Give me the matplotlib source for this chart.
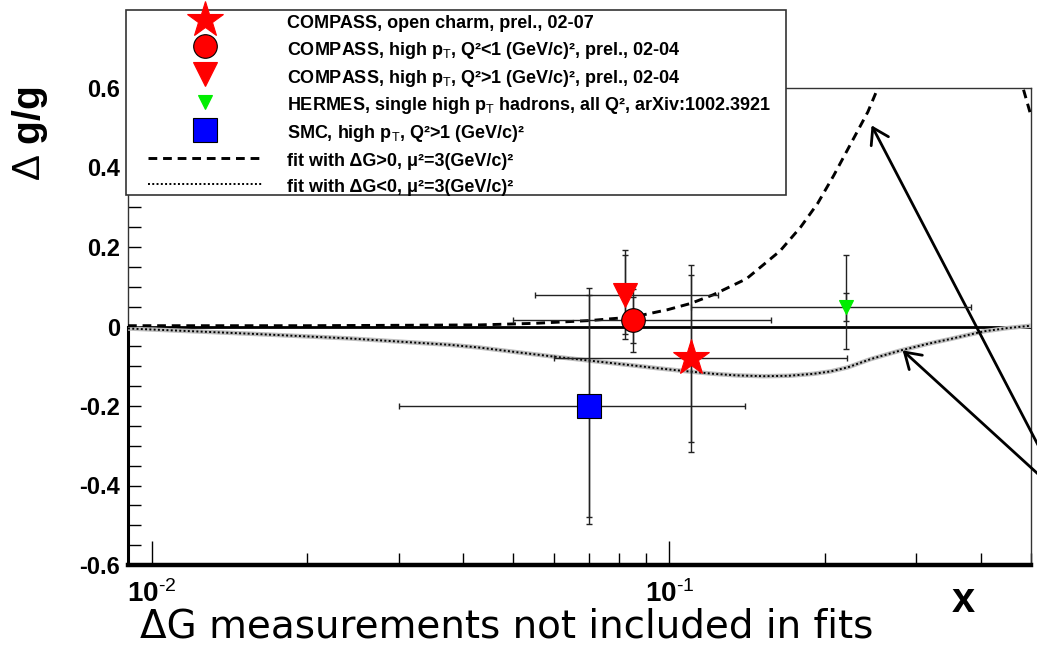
import matplotlib
matplotlib.use("Agg")
import matplotlib.pyplot as plt
from matplotlib.patches import Rectangle

plt.rcParams['mathtext.fontset'] = 'custom'
plt.rcParams['mathtext.rm'] = 'Liberation Sans'
plt.rcParams['mathtext.bf'] = 'Liberation Sans:bold'
plt.rcParams['mathtext.it'] = 'Liberation Sans:italic'

# measurements: x, dg/g, stat error, total error (up/down), x range of the bar
labels = ["COMPASS, open charm, prel., 02-07",
          "COMPASS, high p$_{\\rm T}$, Q²<1 (GeV/c)², prel., 02-04",
          "COMPASS, high p$_{\\rm T}$, Q²>1 (GeV/c)², prel., 02-04",
          "HERMES, single high p$_{\\rm T}$ hadrons, all Q², arXiv:1002.3921",
          "SMC, high p$_{\\rm T}$, Q²>1 (GeV/c)²"]
x_pts = [0.11, 0.085, 0.082, 0.22, 0.07]
y_pts = [-0.08, 0.016, 0.08, 0.049, -0.20]
stat_err = [0.21, 0.058, 0.10, 0.035, 0.28]
tot_up = [0.235, 0.079, 0.112, 0.131, 0.297]
tot_down = [0.235, 0.079, 0.112, 0.105, 0.297]
x_lo = [0.060, 0.050, 0.055, 0.110, 0.030]
x_hi = [0.221, 0.157, 0.124, 0.383, 0.140]
markers = ['*', 'o', 'v', 'v', 's']
colors = ['#ff0000', '#ff0000', '#ff0000', '#00ee00', '#0000ff']
sizes = [27, 17, 17, 9.5, 17]
edges = ['none', 'k', 'none', 'none', 'k']

# fit curves
pos_x = [0.009, 0.02, 0.03, 0.043, 0.055, 0.0703, 0.0852, 0.0991, 0.11, 0.1217, 0.141,
         0.1637, 0.1794, 0.1936, 0.2079, 0.2243, 0.242, 0.253, 0.28, 0.32, 0.37,
         0.42, 0.46, 0.4826, 0.5]
pos_y = [0.002, 0.002, 0.003, 0.004, 0.008, 0.015, 0.024, 0.042, 0.058, 0.08, 0.12,
         0.19, 0.25, 0.31, 0.38, 0.46, 0.54, 0.60, 0.72, 0.82, 0.86,
         0.80, 0.68, 0.60, 0.53]
neg_x = [0.009, 0.0154, 0.0241, 0.0376, 0.043, 0.051, 0.0601, 0.0703, 0.0852, 0.095, 0.105,
         0.1217, 0.135, 0.1521, 0.17, 0.19, 0.205, 0.221, 0.245, 0.2804, 0.315, 0.3505,
         0.406, 0.45, 0.5]
neg_y = [-0.005, -0.018, -0.03, -0.046, -0.053, -0.065, -0.076, -0.086, -0.098, -0.105, -0.111,
         -0.119, -0.123, -0.125, -0.124, -0.119, -0.113, -0.103, -0.082, -0.060, -0.044, -0.031,
         -0.012, -0.004, 0.002]

fig = plt.figure(figsize=(10.37, 6.49), dpi=100)
ax = fig.add_axes([128/1037, 1 - 565/649, (1031 - 128)/1037, (565 - 88)/649])
ax.set_xscale('log')
ax.set_xlim(0.009, 0.5)
ax.set_ylim(-0.6, 0.6)

ax.axhline(0, color='k', lw=2, zorder=2)
ax.plot([0.009, 0.009], [-0.6, 0], color='k', lw=2.2, clip_on=False, zorder=3)

ax.plot(neg_x, neg_y, color='#bdbdbd', lw=3.2, zorder=3)
line_neg, = ax.plot(neg_x, neg_y, color='k', lw=1.4, dashes=(1, 1.2), zorder=3)
line_pos, = ax.plot(pos_x, pos_y, color='k', lw=2.1, dashes=(3, 2), zorder=3)

handles = []
for i in range(len(x_pts)):
    xe = [[x_pts[i] - x_lo[i]], [x_hi[i] - x_pts[i]]]
    ax.errorbar([x_pts[i]], [y_pts[i]], xerr=xe, yerr=[[tot_down[i]], [tot_up[i]]],
                fmt='none', ecolor='#222222', elinewidth=1.0, capsize=2, capthick=1.0, zorder=4)
    ax.errorbar([x_pts[i]], [y_pts[i]], yerr=stat_err[i],
                fmt='none', ecolor='#222222', elinewidth=1.0, capsize=2, capthick=1.0, zorder=4)
    h, = ax.plot([x_pts[i]], [y_pts[i]], marker=markers[i], color=colors[i], ms=sizes[i],
                 mec=edges[i] if edges[i] != 'none' else colors[i], mew=0.8,
                 linestyle='none', zorder=5)
    handles.append(h)

ax.set_yticks([-0.6, -0.4, -0.2, 0, 0.2, 0.4, 0.6])
ax.set_yticklabels(['-0.6', '-0.4', '-0.2', '0', '0.2', '0.4', '0.6'],
                   fontsize=17, fontweight='bold', family='Liberation Sans')
ax.set_yticks([v / 100 for v in range(-60, 61, 5)], minor=True)
ax.set_xticks([0.01, 0.1])
ax.set_xticklabels([r'$\mathbf{10}^{\text{-2}}$', r'$\mathbf{10}^{\text{-1}}$'], fontsize=20)
ax.tick_params(axis='y', which='both', direction='in', length=9.5, width=1, pad=5.5)
ax.tick_params(axis='x', which='major', direction='in', length=17, width=1, pad=11)
ax.tick_params(axis='x', which='minor', direction='in', length=8.6, width=1, labelbottom=False)
ax.spines['bottom'].set_linewidth(3.2)
for s in ['left', 'right', 'top']:
    ax.spines[s].set_linewidth(1)
    ax.spines[s].set_color('#333333')

fig.text(30/1037, 1 - 134/649, r'$\Delta$ g/g', rotation=90, ha='center', va='center',
         fontsize=28, fontweight='bold', family='Liberation Sans')
fig.text(963/1037, 1 - 601/649, 'x', ha='center', va='center',
         fontsize=30, fontweight='bold', family='Liberation Sans')

# arrows pointing at the two fits
arrow = dict(arrowstyle='->,head_length=0.55,head_width=0.35', color='k', lw=2,
             shrinkA=0, shrinkB=0, mutation_scale=20)
ax.annotate('', xy=(0.246, 0.506), xytext=(1.01, 0.2866), textcoords='figure fraction',
            arrowprops=arrow, annotation_clip=False)
ax.annotate('', xy=(0.2824, -0.060), xytext=(1.01, 0.2565), textcoords='figure fraction',
            arrowprops=arrow, annotation_clip=False)

# legend box
fig.add_artist(Rectangle((126/1037, 1 - 195/649), 660/1037, 185/649, transform=fig.transFigure,
                         facecolor='white', edgecolor='#333333', lw=1.2, zorder=2))
leg_labels = labels + ["fit with ΔG>0, μ²=3(GeV/c)²", "fit with ΔG<0, μ²=3(GeV/c)²"]
leg = fig.legend(handles + [line_pos, line_neg], leg_labels, loc='upper left',
                 bbox_to_anchor=(148/1037, 1 - 12/649), frameon=False, borderpad=0,
                 borderaxespad=0, handlelength=6.3, handletextpad=1.4, handleheight=1.4,
                 labelspacing=0.30, prop={'family': 'Liberation Sans', 'weight': 'bold', 'size': 13})
leg.set_zorder(5)

fig.text(140/1037, 1 - 637/649, 'ΔG measurements not included in fits', ha='left',
         va='baseline', fontsize=28, family='DejaVu Sans')

fig.savefig('out.png', dpi=100)
